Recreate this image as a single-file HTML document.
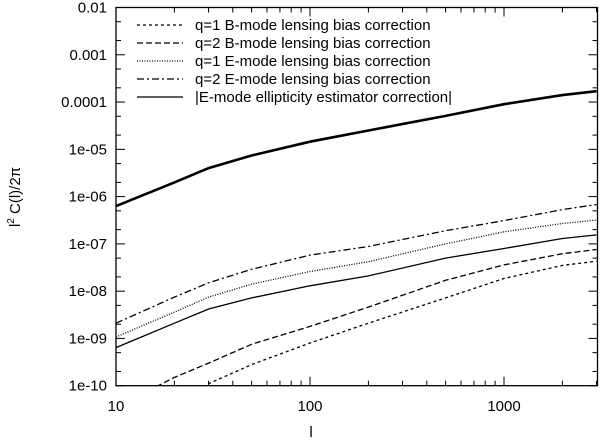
<!DOCTYPE html>
<html><head><meta charset="utf-8"><style>
body{margin:0;background:#fff}
svg text{font-family:"Liberation Sans",sans-serif;fill:#000}
</style></head><body>
<svg id="chart" width="600" height="438" xmlns="http://www.w3.org/2000/svg">
<defs><clipPath id="pc"><rect x="116" y="7.5" width="481.5" height="378.2"/></clipPath></defs>
<g id="ticks"></g>
<g id="series" clip-path="url(#pc)"></g>
<rect x="116" y="7.5" width="481.5" height="378.2" fill="none" stroke="#000" stroke-width="1.3"/>
<text x="311" y="437" font-size="15" text-anchor="middle">l</text>
<text transform="translate(20,197) rotate(-90)" font-size="15" text-anchor="middle">l<tspan font-size="10" dy="-6">2</tspan><tspan dy="6"> C(l)/2π</tspan></text>
<g id="legend"></g>
</svg>
<script>
const lValues=[10,20,30,50,100,200,500,1000,2000,3000];
const q1B=[1.5e-11,3.5e-11,1.1e-10,2.8e-10,8e-10,2.1e-9,7.2e-9,1.85e-8,3.5e-8,4.3e-8];
const q2B=[3.5e-11,1.5e-10,3e-10,7.5e-10,1.8e-9,4.6e-9,1.7e-8,3.6e-8,6.2e-8,7.6e-8];
const q1E=[1.07e-9,3.6e-9,7.5e-9,1.4e-8,2.6e-8,4.2e-8,1.0e-7,1.8e-7,2.7e-7,3.2e-7];
const q2E=[2.1e-9,7.5e-9,1.5e-8,2.9e-8,5.8e-8,8.8e-8,1.9e-7,3.1e-7,5.3e-7,6.8e-7];
const ellipSmall=[6.4e-10,2.1e-9,4.2e-9,7.2e-9,1.3e-8,2.1e-8,5.0e-8,8.0e-8,1.3e-7,1.55e-7];
const ellipBig=[6.3e-7,2.0e-6,4.0e-6,7.4e-6,1.45e-5,2.5e-5,5.1e-5,9.0e-5,1.4e-4,1.7e-4];
const xTickLabels=["10","100","1000"];
const yTickLabels=["1e-10","1e-09","1e-08","1e-07","1e-06","1e-05","0.0001","0.001","0.01"];
const legendLabels=["q=1 B-mode lensing bias correction","q=2 B-mode lensing bias correction","q=1 E-mode lensing bias correction","q=2 E-mode lensing bias correction","|E-mode ellipticity estimator correction|"];

const NS="http://www.w3.org/2000/svg";
const X0=116,X1=597.5,Y0=385.7,Y1=7.5;
const xs=l=>X0+(Math.log10(l)-1)*194;
const ys=v=>Y0-(Math.log10(v)+10)*(Y0-Y1)/8;
function mk(tag,attrs,parent){const e=document.createElementNS(NS,tag);for(const k in attrs)e.setAttribute(k,attrs[k]);parent.appendChild(e);return e;}
const tg=document.getElementById('ticks');
// x ticks
for(let d=1;d<=3;d++){for(let m=1;m<=9;m++){const l=m*Math.pow(10,d);if(l>3000)break;const x=xs(l);const len=m==1?9:5;
 let t=mk('line',{x1:x,x2:x,y1:Y0,y2:Y0-len,stroke:'#000','stroke-width':1},tg);
 t=mk('line',{x1:x,x2:x,y1:Y1,y2:Y1+len,stroke:'#000','stroke-width':1},tg);}}
xTickLabels.forEach((s,i)=>{const t=mk('text',{x:xs(Math.pow(10,i+1)),y:411,'font-size':15,'text-anchor':'middle'},tg);t.textContent=s;
 });
// y ticks
yTickLabels.forEach((s,i)=>{const v=Math.pow(10,i-10);const y=ys(v);
 [[X0,X0+9],[X1,X1-9]].forEach(p=>{const t=mk('line',{x1:p[0],x2:p[1],y1:y,y2:y,stroke:'#000','stroke-width':1},tg);});
 if(i<8)[2,5].forEach(m=>{const yy=ys(m*v);[[X0,X0+5],[X1,X1-5]].forEach(p=>{const t=mk('line',{x1:p[0],x2:p[1],y1:yy,y2:yy,stroke:'#000','stroke-width':1},tg);});});
 const t=mk('text',{x:107,y:y+5,'font-size':15,'text-anchor':'end'},tg);t.textContent=s;
 });
// series
const sg=document.getElementById('series');
const seriesList=[[q1B,'3,3',1.3,'q1-b-mode-line'],[q2B,'6,3',1.3,'q2-b-mode-line'],[q1E,'1,1.5',1.3,'q1-e-mode-line'],[q2E,'7,3,2,3',1.3,'q2-e-mode-line'],[ellipSmall,'',1.3,'ellipticity-correction-line'],[ellipBig,'',2.6,'ellipticity-correction-thick-line']];
seriesList.forEach(s=>{const d=s[0].map((v,i)=>(i?'L':'M')+xs(lValues[i]).toFixed(1)+','+ys(v).toFixed(1)).join('');
 const p=mk('path',{d:d,fill:'none',stroke:'#000','stroke-width':s[2],'stroke-dasharray':s[1]},sg);
 });
// legend
const lg=document.getElementById('legend');
const dashes=['3,3','6,3','1,1.5','7,3,2,3',''];
legendLabels.forEach((s,i)=>{const y=25+i*18;
 const l=mk('line',{x1:137,x2:183,y1:y,y2:y,stroke:'#000','stroke-width':1.3,'stroke-dasharray':dashes[i]},lg);
 
 const t=mk('text',{x:195,y:y+5,'font-size':15},lg);t.textContent=s;
 });
</script>
</body></html>
